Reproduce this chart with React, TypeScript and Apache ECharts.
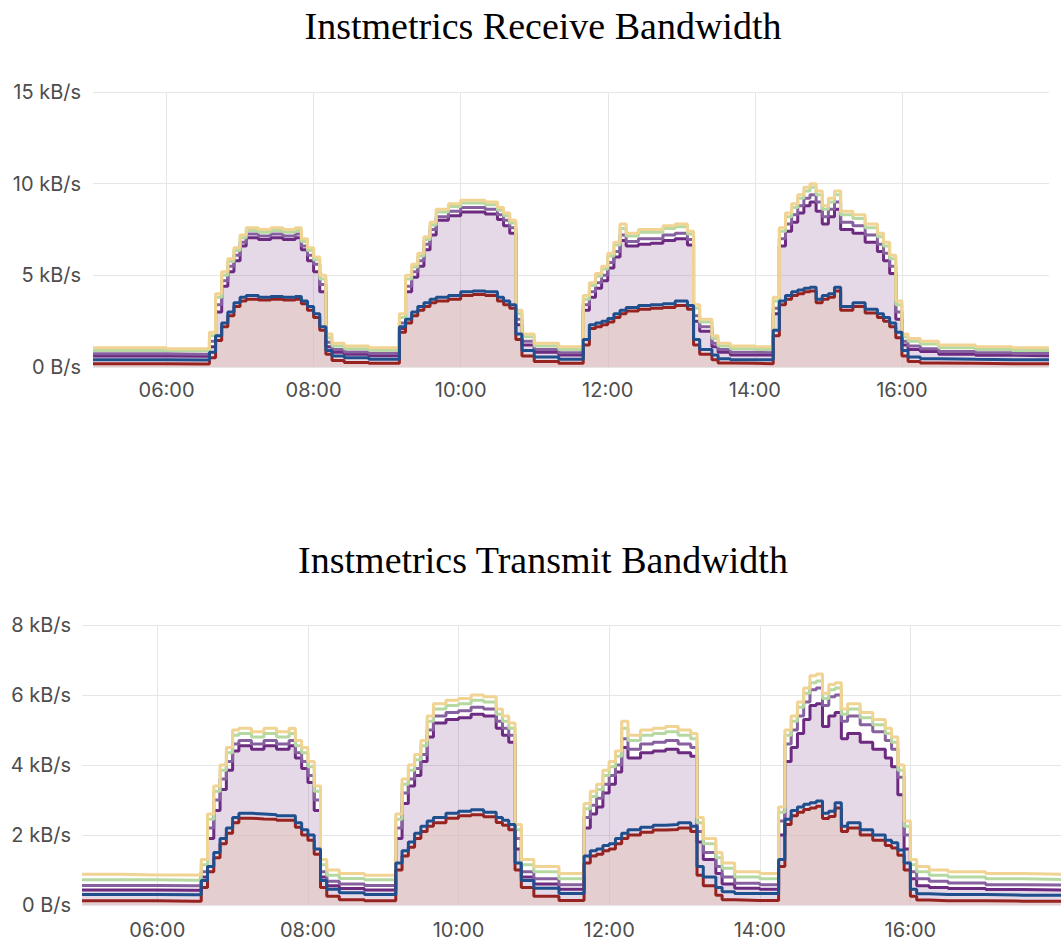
import React, { useEffect, useRef } from "react";
import * as echarts from "echarts";

const TIMES = [
  "05:00", "05:30", "06:00", "06:30",
  "06:35", "06:40", "06:45", "06:50", "06:55", "07:00", "07:05", "07:15", "07:25", "07:35", "07:45", "07:50", "07:55", "08:00", "08:05", "08:10", "08:15", "08:25",
  "08:45",
  "09:10", "09:15", "09:20", "09:25", "09:30", "09:35", "09:40", "09:50", "10:00", "10:10", "10:20", "10:30", "10:35", "10:40", "10:45", "10:50", "11:00",
  "11:20",
  "11:40", "11:45", "11:50", "11:55", "12:00", "12:05", "12:10", "12:15", "12:25", "12:35", "12:45", "12:55", "13:05", "13:10", "13:15", "13:25", "13:30", "13:40",
  "14:00",
  "14:15", "14:20", "14:25", "14:30", "14:35", "14:40", "14:45", "14:50", "14:55", "15:00", "15:05", "15:10", "15:20", "15:30", "15:40", "15:45", "15:50", "15:55", "16:00", "16:05", "16:15",
  "16:30", "17:00", "17:30", "18:00",
];

// Labelled hours (vertical gridlines)
const X_TICKS = ["06:00", "08:00", "10:00", "12:00", "14:00", "16:00"];

// Receive bandwidth (kB/s)
const RX_YELLOW = [1.05, 1.05, 1.0, 1.0,
  1.9, 4.0, 5.2, 5.9, 6.5, 7.2, 7.6, 7.5, 7.6, 7.5, 7.6, 7.0, 6.5, 6.0, 5.0, 1.8, 1.3, 1.15,
  1.05,
  2.9, 5.0, 5.6, 6.2, 7.1, 7.9, 8.6, 8.9, 9.1, 9.1, 9.0, 8.7, 8.4, 8.0, 3.1, 1.8, 1.3,
  1.1,
  3.9, 4.6, 5.1, 5.5, 6.2, 6.8, 7.8, 7.3, 7.5, 7.5, 7.7, 7.8, 7.4, 3.4, 2.6, 1.7, 1.3, 1.15,
  1.1,
  3.8, 7.6, 8.4, 8.9, 9.4, 9.8, 10.0, 9.6, 8.8, 9.2, 9.6, 8.5, 8.3, 7.8, 7.3, 6.8, 6.1, 3.6, 1.8, 1.55, 1.4,
  1.2, 1.1, 1.05, 1.05];
const RX_GREEN = [0.9, 0.9, 0.88, 0.88,
  1.7, 3.8, 5.0, 5.75, 6.35, 7.05, 7.45, 7.35, 7.45, 7.35, 7.45, 6.85, 6.35, 5.85, 4.8, 1.6, 1.15, 1.0,
  0.92,
  2.7, 4.8, 5.45, 6.05, 6.95, 7.75, 8.45, 8.75, 8.95, 8.95, 8.85, 8.55, 8.25, 7.85, 2.9, 1.65, 1.15,
  0.95,
  3.7, 4.45, 4.95, 5.35, 6.05, 6.65, 7.55, 7.15, 7.35, 7.35, 7.55, 7.65, 7.25, 3.2, 2.45, 1.55, 1.15, 1.0,
  0.95,
  3.6, 7.4, 8.2, 8.7, 9.2, 9.6, 9.8, 9.4, 8.6, 9.0, 9.4, 8.3, 8.1, 7.6, 7.1, 6.6, 5.9, 3.4, 1.65, 1.4, 1.25,
  1.05, 0.95, 0.9, 0.9];
const RX_LAV = [0.72, 0.72, 0.7, 0.7,
  1.4, 3.4, 4.7, 5.5, 6.1, 6.8, 7.25, 7.15, 7.25, 7.15, 7.25, 6.6, 6.1, 5.6, 4.5, 1.35, 0.95, 0.82,
  0.75,
  2.4, 4.4, 5.2, 5.8, 6.7, 7.5, 8.2, 8.5, 8.7, 8.7, 8.6, 8.3, 8.0, 7.6, 2.6, 1.4, 0.95,
  0.78,
  3.4, 4.1, 4.6, 5.0, 5.7, 6.3, 7.2, 6.85, 7.0, 7.0, 7.2, 7.3, 6.95, 2.8, 2.2, 1.3, 0.95, 0.8,
  0.78,
  3.2, 7.0, 7.8, 8.3, 8.8, 9.2, 9.4, 9.0, 8.2, 8.6, 9.0, 7.9, 7.7, 7.2, 6.7, 6.2, 5.5, 3.0, 1.4, 1.15, 1.0,
  0.85, 0.78, 0.74, 0.74];
const RX_PURPLE = [0.6, 0.6, 0.58, 0.58,
  1.1, 3.0, 4.4, 5.2, 5.8, 6.6, 7.05, 6.95, 7.05, 6.95, 7.05, 6.4, 5.8, 5.2, 4.1, 1.1, 0.8, 0.7,
  0.62,
  2.1, 4.1, 4.9, 5.5, 6.4, 7.2, 8.0, 8.25, 8.45, 8.45, 8.35, 8.05, 7.7, 7.3, 2.3, 1.2, 0.8,
  0.65,
  3.1, 3.8, 4.3, 4.7, 5.4, 6.0, 6.9, 6.6, 6.7, 6.75, 6.9, 7.0, 6.65, 2.5, 1.95, 1.1, 0.8, 0.66,
  0.65,
  2.9, 6.6, 7.4, 7.9, 8.4, 8.8, 9.0, 8.5, 7.8, 8.2, 8.6, 7.5, 7.3, 6.8, 6.3, 5.8, 5.1, 2.6, 1.2, 0.95, 0.85,
  0.7, 0.64, 0.62, 0.62];
const RX_BLUE = [0.4, 0.4, 0.38, 0.38,
  0.8, 1.7, 2.4, 3.0, 3.5, 3.8, 3.9, 3.8, 3.85, 3.8, 3.85, 3.6, 3.3, 2.9, 2.2, 0.9, 0.6, 0.5,
  0.42,
  2.2, 2.6, 3.0, 3.3, 3.5, 3.7, 3.8, 3.9, 4.1, 4.15, 4.1, 3.8, 3.6, 3.4, 1.8, 0.9, 0.55,
  0.42,
  1.5, 2.3, 2.4, 2.5, 2.65, 2.9, 3.1, 3.25, 3.35, 3.4, 3.45, 3.6, 3.35, 1.5, 0.95, 0.65, 0.45, 0.4,
  0.4,
  2.0, 3.6, 3.9, 4.1, 4.2, 4.3, 4.35, 3.7, 3.9, 4.0, 4.35, 3.3, 3.5, 3.15, 2.9, 2.7, 2.4, 1.9, 0.9, 0.55, 0.45,
  0.42, 0.4, 0.4, 0.4];
const RX_RED = [0.18, 0.18, 0.17, 0.17,
  0.5, 1.45, 2.2, 2.8, 3.3, 3.6, 3.7, 3.65, 3.7, 3.65, 3.7, 3.45, 3.1, 2.7, 2.0, 0.7, 0.35, 0.25,
  0.2,
  1.9, 2.4, 2.8, 3.1, 3.3, 3.5, 3.6, 3.7, 3.9, 3.95, 3.9, 3.6, 3.4, 3.2, 1.5, 0.6, 0.3,
  0.2,
  1.2, 2.1, 2.2, 2.3, 2.45, 2.7, 2.9, 3.05, 3.15, 3.2, 3.25, 3.35, 3.15, 1.2, 0.7, 0.4, 0.22, 0.2,
  0.18,
  1.7, 3.4, 3.7, 3.9, 4.0, 4.1, 4.15, 3.5, 3.7, 3.8, 4.15, 3.1, 3.3, 2.95, 2.7, 2.5, 2.2, 1.6, 0.6, 0.3, 0.22,
  0.2, 0.18, 0.18, 0.18];

// Transmit bandwidth (kB/s)
const TX_YELLOW = [0.88, 0.86, 0.86, 0.86,
  1.3, 2.6, 3.4, 4.0, 4.5, 5.0, 5.05, 4.95, 5.05, 4.95, 5.05, 4.7, 4.5, 4.1, 3.4, 1.3, 1.0, 0.9,
  0.85,
  2.6, 3.6, 4.0, 4.3, 4.7, 5.4, 5.75, 5.85, 5.9, 6.0, 5.95, 5.6, 5.4, 5.2, 2.3, 1.3, 1.1,
  0.9,
  2.9, 3.25, 3.45, 3.85, 4.1, 4.4, 5.25, 4.85, 5.0, 5.05, 5.1, 5.0, 4.9, 2.5, 1.9, 1.5, 1.2, 0.95,
  0.9,
  2.8, 5.0, 5.4, 5.8, 6.2, 6.55, 6.6, 6.05, 6.3, 6.35, 5.6, 5.75, 5.5, 5.3, 5.05, 4.8, 4.0, 2.4, 1.3, 1.1, 1.0,
  0.95, 0.9, 0.88, 0.88];
const TX_GREEN = [0.72, 0.72, 0.71, 0.71,
  1.15, 2.45, 3.25, 3.85, 4.35, 4.85, 4.9, 4.8, 4.9, 4.8, 4.9, 4.55, 4.35, 3.95, 3.25, 1.15, 0.85, 0.76,
  0.72,
  2.45, 3.45, 3.85, 4.15, 4.55, 5.25, 5.6, 5.7, 5.75, 5.85, 5.8, 5.45, 5.25, 5.05, 2.15, 1.15, 0.95,
  0.75,
  2.75, 3.1, 3.3, 3.7, 3.95, 4.25, 5.05, 4.7, 4.85, 4.9, 4.95, 4.85, 4.75, 2.35, 1.75, 1.35, 1.05, 0.8,
  0.75,
  2.65, 4.85, 5.25, 5.65, 6.05, 6.35, 6.4, 5.9, 6.15, 6.2, 5.45, 5.6, 5.35, 5.15, 4.9, 4.65, 3.85, 2.25, 1.15, 0.95, 0.85,
  0.8, 0.75, 0.73, 0.73];
const TX_LAV = [0.56, 0.56, 0.55, 0.55,
  0.95, 2.2, 3.0, 3.6, 4.1, 4.6, 4.7, 4.6, 4.7, 4.6, 4.7, 4.35, 4.1, 3.7, 3.0, 0.95, 0.68, 0.6,
  0.56,
  2.2, 3.2, 3.6, 3.9, 4.3, 5.0, 5.4, 5.5, 5.55, 5.65, 5.6, 5.25, 5.05, 4.85, 1.9, 0.95, 0.75,
  0.58,
  2.5, 2.85, 3.05, 3.45, 3.7, 4.0, 4.75, 4.45, 4.6, 4.65, 4.7, 4.6, 4.5, 2.1, 1.5, 1.1, 0.8, 0.62,
  0.58,
  2.4, 4.6, 5.0, 5.4, 5.8, 6.15, 6.2, 5.7, 5.95, 6.0, 5.25, 5.4, 5.15, 4.95, 4.7, 4.45, 3.65, 2.0, 0.95, 0.75, 0.68,
  0.63, 0.58, 0.57, 0.57];
const TX_PURPLE = [0.43, 0.43, 0.42, 0.42,
  0.8, 1.9, 2.7, 3.3, 3.85, 4.4, 4.55, 4.45, 4.55, 4.45, 4.55, 4.2, 3.9, 3.5, 2.7, 0.8, 0.55, 0.47,
  0.43,
  1.9, 2.9, 3.4, 3.7, 4.1, 4.8, 5.2, 5.3, 5.35, 5.45, 5.4, 5.05, 4.85, 4.65, 1.6, 0.8, 0.6,
  0.45,
  2.2, 2.6, 2.8, 3.2, 3.45, 3.8, 4.5, 4.2, 4.35, 4.4, 4.45, 4.35, 4.25, 1.8, 1.3, 0.9, 0.6, 0.48,
  0.45,
  2.0, 4.1, 4.5, 4.9, 5.3, 5.7, 5.75, 5.1, 5.4, 5.5, 4.75, 4.9, 4.65, 4.45, 4.2, 3.95, 3.15, 1.6, 0.75, 0.55, 0.5,
  0.47, 0.44, 0.43, 0.43];
const TX_BLUE = [0.3, 0.3, 0.29, 0.29,
  0.7, 1.1, 1.5, 1.9, 2.2, 2.5, 2.62, 2.6, 2.58, 2.55, 2.55, 2.35, 2.15, 2.0, 1.6, 0.7, 0.45, 0.35,
  0.3,
  1.2, 1.55, 1.8, 2.05, 2.25, 2.4, 2.5, 2.62, 2.68, 2.72, 2.65, 2.5, 2.42, 2.3, 1.2, 0.7, 0.48,
  0.33,
  1.4, 1.55, 1.6, 1.7, 1.75, 1.9, 2.05, 2.15, 2.22, 2.28, 2.3, 2.35, 2.25, 1.1, 0.8, 0.5, 0.38, 0.33,
  0.33,
  1.3, 2.45, 2.7, 2.8, 2.88, 2.92, 2.97, 2.62, 2.68, 2.92, 2.25, 2.35, 2.15, 2.0, 1.85, 1.78, 1.57, 1.2, 0.45, 0.32, 0.3,
  0.3, 0.28, 0.28, 0.28];
const TX_RED = [0.12, 0.12, 0.11, 0.11,
  0.5, 0.95, 1.35, 1.75, 2.05, 2.35, 2.48, 2.46, 2.45, 2.42, 2.42, 2.22, 2.0, 1.85, 1.45, 0.5, 0.25, 0.15,
  0.12,
  1.0, 1.4, 1.65, 1.9, 2.1, 2.25, 2.35, 2.48, 2.55, 2.58, 2.52, 2.36, 2.28, 2.15, 1.0, 0.5, 0.25,
  0.13,
  1.2, 1.4, 1.45, 1.55, 1.6, 1.75, 1.9, 2.0, 2.08, 2.14, 2.16, 2.2, 2.1, 0.85, 0.55, 0.28, 0.15, 0.13,
  0.13,
  1.1, 2.3, 2.55, 2.65, 2.73, 2.77, 2.82, 2.47, 2.53, 2.77, 2.1, 2.2, 2.0, 1.85, 1.7, 1.63, 1.42, 1.0, 0.25, 0.14, 0.12,
  0.12, 0.11, 0.11, 0.11];

const TITLES = ["Instmetrics Receive Bandwidth", "Instmetrics Transmit Bandwidth"];
const Y_MAX = [15, 8];
const Y_STEP = [5, 2];
const X_START = "05:00";
const X_END = "18:00";

const COLORS = {
  red: "#962320",
  blue: "#1f4f8c",
  purple: "#6c2a80",
  lav: "#86609f",
  green: "#b6d9a2",
  yellow: "#f1d394",
};

// minutes since midnight
const mins = (s: string) => {
  const [h, m] = s.split(":").map(Number);
  return h * 60 + m;
};
const fmt = (v: number) => {
  const h = Math.floor(v / 60);
  const m = Math.round(v - h * 60);
  return String(h).padStart(2, "0") + ":" + String(m).padStart(2, "0");
};
const TICK_MINS = X_TICKS.map(mins);

const pairs = (vals: number[]) => TIMES.map((t, i) => [mins(t), vals[i]]);

const LABEL_FONT = "Inter, Roboto, sans-serif";
const LABEL_COLOR = "#4d4d4d";
const GRID_COLOR = "#e6e6e6";
const LW = 3;

function seriesFor(idx: number, d: { red: number[]; blue: number[]; purple: number[]; lav: number[]; green: number[]; yellow: number[] }) {
  const base = {
    type: "line",
    step: "end",
    symbol: "none",
    xAxisIndex: idx,
    yAxisIndex: idx,
    silent: true,
  };
  return [
    {
      ...base,
      name: "purple" + idx,
      data: pairs(d.purple),
      lineStyle: { width: LW, color: COLORS.purple },
      itemStyle: { color: COLORS.purple },
      areaStyle: { color: "rgba(130,70,140,0.3)" },
      markLine: {
        silent: true,
        symbol: "none",
        z: 1,
        animation: false,
        label: { show: false },
        lineStyle: { color: GRID_COLOR, type: "solid", width: 1 },
        data: TICK_MINS.map((x) => ({ xAxis: x })),
      },
    },
    { ...base, name: "lav" + idx, data: pairs(d.lav), lineStyle: { width: LW, color: COLORS.lav }, itemStyle: { color: COLORS.lav } },
    { ...base, name: "green" + idx, data: pairs(d.green), lineStyle: { width: LW, color: COLORS.green }, itemStyle: { color: COLORS.green } },
    { ...base, name: "yellow" + idx, data: pairs(d.yellow), lineStyle: { width: LW, color: COLORS.yellow }, itemStyle: { color: COLORS.yellow } },
    { ...base, name: "red" + idx, data: pairs(d.red), lineStyle: { width: LW, color: COLORS.red }, itemStyle: { color: COLORS.red }, areaStyle: { color: "rgba(228,200,192,0.85)" } },
    { ...base, name: "blue" + idx, data: pairs(d.blue), lineStyle: { width: LW, color: COLORS.blue }, itemStyle: { color: COLORS.blue } },
  ];
}

export default function App() {
  const ref = useRef<HTMLDivElement>(null);
  useEffect(() => {
    if (!ref.current) return;
    const chart = echarts.init(ref.current, undefined, { renderer: "svg" });
    const xAxis = (gi: number, margin: number) => ({
      type: "value",
      gridIndex: gi,
      min: mins(X_START),
      max: mins(X_END),
      interval: 60,
      axisLine: { show: false },
      axisTick: { show: false },
      splitLine: { show: false },
      axisLabel: {
        formatter: (v: number) => (TICK_MINS.indexOf(v) >= 0 ? fmt(v) : ""),
        color: LABEL_COLOR,
        fontFamily: LABEL_FONT,
        fontSize: 20,
        margin,
        showMinLabel: false,
        showMaxLabel: false,
      },
    });
    const yAxis = (gi: number, margin: number) => ({
      type: "value",
      gridIndex: gi,
      min: 0,
      max: Y_MAX[gi],
      interval: Y_STEP[gi],
      axisLine: { show: false },
      axisTick: { show: false },
      splitLine: { show: true, lineStyle: { color: GRID_COLOR, width: 1 } },
      axisLabel: {
        formatter: (v: number) => (v === 0 ? "0 B/s" : v + " kB/s"),
        color: LABEL_COLOR,
        fontFamily: LABEL_FONT,
        fontSize: 20,
        margin,
      },
    });
    chart.setOption({
      animation: false,
      backgroundColor: "#ffffff",
      grid: [
        { left: 93, right: 12, top: 92, height: 275 },
        { left: 82, right: -9, top: 625, height: 280 },
      ],
      xAxis: [xAxis(0, 13), xAxis(1, 15)],
      yAxis: [yAxis(0, 12), yAxis(1, 11)],
      graphic: [
        {
          type: "text",
          x: 543,
          y: 26,
          style: {
            text: TITLES[0],
            font: "38px 'Liberation Serif', 'Times New Roman', serif",
            fill: "#000",
            align: "center",
            verticalAlign: "middle",
            textAlign: "center",
            textVerticalAlign: "middle",
          },
        },
        {
          type: "text",
          x: 543,
          y: 560,
          style: {
            text: TITLES[1],
            font: "38px 'Liberation Serif', 'Times New Roman', serif",
            fill: "#000",
            align: "center",
            verticalAlign: "middle",
            textAlign: "center",
            textVerticalAlign: "middle",
          },
        },
      ],
      series: [
        ...seriesFor(0, { red: RX_RED, blue: RX_BLUE, purple: RX_PURPLE, lav: RX_LAV, green: RX_GREEN, yellow: RX_YELLOW }),
        ...seriesFor(1, { red: TX_RED, blue: TX_BLUE, purple: TX_PURPLE, lav: TX_LAV, green: TX_GREEN, yellow: TX_YELLOW }),
      ],
    });
    return () => chart.dispose();
  }, []);
  return (
    <div style={{ position: "absolute", left: 0, top: 0, width: 1061, height: 947, overflow: "hidden", background: "#fff" }}>
      <div ref={ref} style={{ width: 1061, height: 947 }} />
    </div>
  );
}
